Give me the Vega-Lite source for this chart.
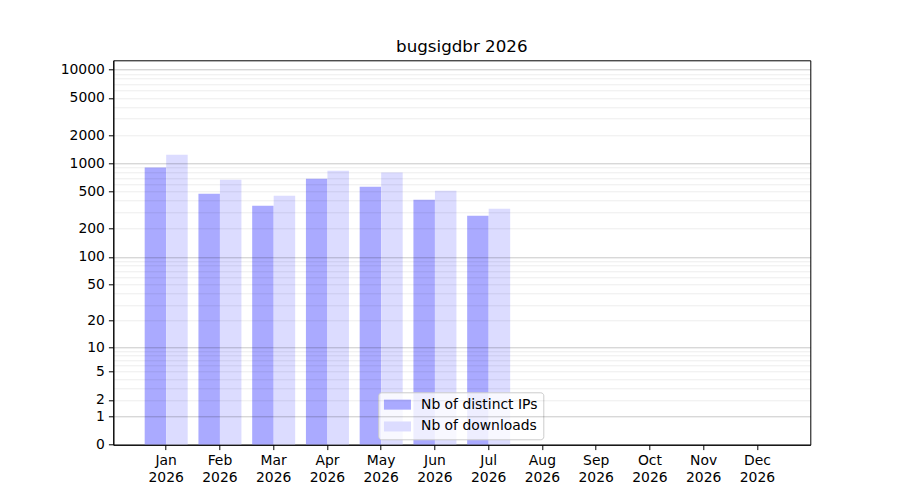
{
  "$schema": "https://vega.github.io/schema/vega-lite/v6.json",
  "width": 697,
  "height": 384.4,
  "autosize": "none",
  "padding": {"left": 113.3, "top": 60.3, "right": 89.7, "bottom": 55.3},
  "background": "white",
  "title": {
    "text": "bugsigdbr 2026",
    "font": "DejaVu Sans",
    "fontSize": 16.7,
    "fontWeight": "normal",
    "color": "black",
    "anchor": "middle",
    "frame": "group",
    "baseline": "alphabetic",
    "offset": -8
  },
  "config": {
    "view": {"stroke": "black", "strokeWidth": 1},
    "font": "DejaVu Sans"
  },
  "data": {
    "values": [
      {"month": "Jan", "series": "Nb of distinct IPs", "count": 904},
      {"month": "Jan", "series": "Nb of downloads", "count": 1235},
      {"month": "Feb", "series": "Nb of distinct IPs", "count": 474},
      {"month": "Feb", "series": "Nb of downloads", "count": 668},
      {"month": "Mar", "series": "Nb of distinct IPs", "count": 352},
      {"month": "Mar", "series": "Nb of downloads", "count": 451},
      {"month": "Apr", "series": "Nb of distinct IPs", "count": 685},
      {"month": "Apr", "series": "Nb of downloads", "count": 834},
      {"month": "May", "series": "Nb of distinct IPs", "count": 563},
      {"month": "May", "series": "Nb of downloads", "count": 799},
      {"month": "Jun", "series": "Nb of distinct IPs", "count": 408},
      {"month": "Jun", "series": "Nb of downloads", "count": 510},
      {"month": "Jul", "series": "Nb of distinct IPs", "count": 276},
      {"month": "Jul", "series": "Nb of downloads", "count": 327}
    ]
  },
  "mark": {"type": "bar"},
  "encoding": {
    "x": {
      "field": "month",
      "type": "nominal",
      "sort": ["Jan", "Feb", "Mar", "Apr", "May", "Jun", "Jul", "Aug", "Sep", "Oct", "Nov", "Dec"],
      "scale": {
        "domain": ["Jan", "Feb", "Mar", "Apr", "May", "Jun", "Jul", "Aug", "Sep", "Oct", "Nov", "Dec"],
        "paddingInner": 0.2,
        "paddingOuter": 0.584
      },
      "axis": {
        "title": null,
        "labelAngle": 0,
        "labelExpr": "[datum.label, '2026']",
        "labelFont": "DejaVu Sans",
        "labelFontSize": 13.9,
        "labelColor": "black",
        "labelLineHeight": 16.7,
        "labelPadding": 4,
        "labelBaseline": "top",
        "tickColor": "black",
        "tickSize": 4.9,
        "domainColor": "black",
        "grid": false,
        "zindex": 1
      }
    },
    "xOffset": {
      "field": "series",
      "type": "nominal",
      "sort": ["Nb of distinct IPs", "Nb of downloads"],
      "scale": {"paddingInner": 0, "paddingOuter": 0}
    },
    "y": {
      "field": "count",
      "type": "quantitative",
      "scale": {"type": "symlog", "constant": 1, "domain": [0, 12600], "nice": false, "zero": true},
      "axis": {
        "title": null,
        "values": [0, 1, 2, 3, 4, 5, 6, 7, 8, 9, 10, 20, 30, 40, 50, 60, 70, 80, 90, 100, 200, 300, 400, 500, 600, 700, 800, 900, 1000, 2000, 3000, 4000, 5000, 6000, 7000, 8000, 9000, 10000],
        "labelExpr": "indexof([0,1,2,5,10,20,50,100,200,500,1000,2000,5000,10000], datum.value) >= 0 ? datum.value : ''",
        "labelOverlap": false,
        "labelFont": "DejaVu Sans",
        "labelFontSize": 13.9,
        "labelColor": "black",
        "labelPadding": 4,
        "tickSize": 4.9,
        "tickColor": "black",
        "tickOpacity": {
          "condition": {"test": "indexof([0,1,2,5,10,20,50,100,200,500,1000,2000,5000,10000], datum.value) >= 0", "value": 1},
          "value": 0
        },
        "domainColor": "black",
        "grid": true,
        "gridColor": "black",
        "gridOpacity": {
          "condition": [
            {"test": "datum.value == 0", "value": 0},
            {"test": "indexof([1,10,100,1000,10000], datum.value) >= 0", "value": 0.22}
          ],
          "value": 0.075
        },
        "gridWidth": 1,
        "zindex": 1
      }
    },
    "color": {
      "field": "series",
      "type": "nominal",
      "sort": ["Nb of distinct IPs", "Nb of downloads"],
      "scale": {"domain": ["Nb of distinct IPs", "Nb of downloads"], "range": ["#aaaaff", "#dcdcff"]},
      "legend": {
        "title": null,
        "orient": "none",
        "legendX": 265,
        "legendY": 332,
        "padding": 5.4,
        "fillColor": "rgba(255,255,255,0.8)",
        "strokeColor": "#cccccc",
        "cornerRadius": 3,
        "symbolType": "M-2.7,-1L2.7,-1L2.7,1L-2.7,1Z",
        "symbolSize": 100,
        "symbolOffset": 6.8,
        "symbolStrokeWidth": 0,
        "symbolOpacity": 1,
        "labelFont": "DejaVu Sans",
        "labelFontSize": 13.9,
        "labelColor": "black",
        "labelOffset": 16.6,
        "rowPadding": 6.8
      }
    }
  }
}
